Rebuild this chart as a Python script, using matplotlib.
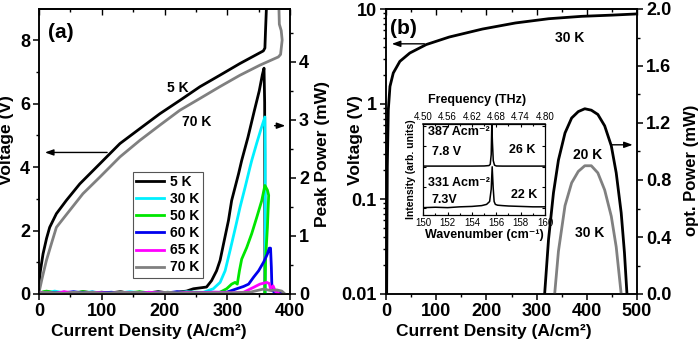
import matplotlib
matplotlib.use('Agg')
import matplotlib.pyplot as plt
from matplotlib.ticker import MultipleLocator, FixedLocator, FixedFormatter, LogLocator, NullFormatter, FormatStrFormatter

plt.rcParams['font.family'] = ['Liberation Sans', 'DejaVu Sans']
plt.rcParams['font.weight'] = 'bold'
plt.rcParams['axes.linewidth'] = 1.1

# ---------------- data: panel (a) ----------------
ja_v5 = [0, 2, 6.4, 12, 17, 27.7, 43.6, 65, 96.8, 129, 160.7, 192.6, 224.5, 256.4, 288, 320, 357.5, 360, 361, 362, 363]
va_5 = [0.3, 0.7, 1.26, 1.75, 2.1, 2.53, 2.95, 3.47, 4.1, 4.74, 5.21, 5.68, 6.1, 6.53, 6.89, 7.26, 7.66, 7.75, 8.3, 8.8, 9.3]
ja_v70 = [0, 5, 11.7, 20, 27.7, 43.6, 70, 96.8, 129, 160.7, 192.6, 224.5, 256.4, 288, 320, 352, 381.5, 385, 387.5, 386, 383, 382]
va_70 = [0.05, 0.5, 1.05, 1.6, 2.1, 2.5, 3.16, 3.68, 4.32, 4.84, 5.32, 5.79, 6.16, 6.53, 6.89, 7.21, 7.47, 7.55, 8.0, 8.3, 8.5, 9.3]

base_j = [0, 12, 25, 40, 55, 70, 85, 100, 115, 130, 145, 160, 175, 190, 205, 220, 235]
jp_5 = base_j + [246, 267, 275, 283, 288.6, 294, 302, 307, 312.5, 318, 323, 333, 343, 351, 356, 358.6, 359.6, 359.8, 360, 360]
pp_5 = [0.02, 0.04, 0.02, 0.03, 0.01, 0.04, 0.02, 0.03, 0.02, 0.04, 0.01, 0.03, 0.02, 0.04, 0.02, 0.03, 0.05,
        0.09, 0.12, 0.23, 0.40, 0.58, 0.86, 1.27, 1.61, 1.84, 2.07, 2.30, 2.70, 3.15, 3.50, 3.78, 3.89, 3.3, 2.2, 1.0, 0.0]
jp_30 = base_j + [250, 262, 277.7, 288.6, 296.6, 304.5, 312.5, 320.5, 328.5, 336.4, 339, 347, 354, 360, 360.5, 360.5, 360.3]
pp_30 = [0.03, 0.02, 0.05, 0.02, 0.03, 0.02, 0.04, 0.01, 0.03, 0.02, 0.04, 0.02, 0.03, 0.01, 0.03, 0.02, 0.04,
         0.03, 0.03, 0.09, 0.20, 0.40, 0.75, 1.12, 1.50, 1.84, 2.19, 2.30, 2.60, 2.85, 3.05, 2.4, 1.2, 0.0]
jp_50 = base_j + [250, 270, 283, 299, 307, 312.5, 316, 319.4, 323, 331, 339, 347, 355, 360, 364, 366, 364, 361, 360]
pp_50 = [0.02, 0.05, 0.02, 0.03, 0.02, 0.04, 0.02, 0.03, 0.01, 0.03, 0.02, 0.04, 0.02, 0.03, 0.02, 0.03, 0.02,
         0.03, 0.02, 0.0, 0.09, 0.17, 0.20, 0.17, 0.40, 0.60, 0.80, 1.04, 1.32, 1.61, 1.87, 1.79, 1.70, 1.15, 0.58, 0.0]
jp_60 = base_j + [250, 270, 299, 315, 326, 334, 342, 350, 358, 364, 367, 369, 370.3, 371.3, 376, 385]
pp_60 = [0.01, 0.03, 0.02, 0.02, 0.04, 0.02, 0.03, 0.02, 0.03, 0.02, 0.01, 0.03, 0.02, 0.03, 0.02, 0.04, 0.02,
         0.02, 0.03, 0.03, 0.09, 0.13, 0.17, 0.29, 0.40, 0.55, 0.69, 0.79, 0.79, 0.46, 0.06, 0.03, 0.01]
jp_65 = base_j + [250, 280, 310, 326, 342, 352, 363, 367, 369, 373, 377, 383.5]
pp_65 = [0.03, 0.02, 0.01, 0.04, 0.02, 0.01, 0.03, 0.02, 0.01, 0.03, 0.02, 0.01, 0.03, 0.02, 0.02, 0.01, 0.03,
         0.02, 0.03, 0.02, 0.03, 0.115, 0.17, 0.20, 0.18, 0.09, 0.14, 0.04, 0.0]
jp_70 = base_j + [250, 280, 310, 336, 358, 369, 379, 387, 392]
pp_70 = [0.02, 0.03, 0.02, 0.01, 0.03, 0.02, 0.03, 0.01, 0.02, 0.03, 0.02, 0.03, 0.01, 0.02, 0.03, 0.02, 0.02,
         0.02, 0.02, 0.02, 0.03, 0.086, 0.06, 0.07, 0.05, 0.0]

temps_a = ['5 K', '30 K', '50 K', '60 K', '65 K', '70 K']
colors_a = ['#000000', '#00f0ff', '#00e600', '#0000ee', '#ff00ff', '#808080']

# ---------------- data: panel (b) ----------------
jb_v = [0.5, 1.3, 2.6, 4.6, 7.9, 14.5, 27.6, 47.4, 80, 126, 192, 258, 324, 389.5, 450, 495, 500]
vb = [0.005, 0.01, 0.22, 0.87, 1.53, 2.12, 2.81, 3.44, 4.22, 5.07, 6.15, 7.13, 7.9, 8.37, 8.62, 8.85, 8.9]
jb_p20 = [316, 323.7, 333.6, 343.5, 356.6, 369.8, 383, 396, 409, 422, 435.6, 448.8, 458.6, 468.5, 475, 480]
pb_20 = [0.0, 0.38, 0.71, 0.94, 1.13, 1.235, 1.28, 1.30, 1.29, 1.26, 1.18, 1.04, 0.85, 0.57, 0.29, 0.0]
jb_p30 = [336, 343.5, 356.6, 369.8, 383, 396, 409, 422, 435.6, 448.8, 458.6, 468.5]
pb_30 = [0.0, 0.30, 0.62, 0.78, 0.86, 0.90, 0.90, 0.85, 0.73, 0.545, 0.33, 0.0]

# inset spectra
wn_26 = [150, 152, 154, 155.0, 155.4, 155.5, 155.58, 155.63, 155.68, 155.75, 155.85, 156.0, 156.5, 158, 160]
int_26 = [1.017, 1.017, 1.017, 1.02, 1.03, 1.06, 1.3, 2.05, 1.6, 1.15, 1.04, 1.02, 1.017, 1.017, 1.017]
wn_22 = [150, 151, 152, 153, 154, 154.8, 155.2, 155.45, 155.58, 155.66, 155.74, 155.82, 155.92, 156.1, 156.5, 157, 158, 159, 160]
int_22 = [0.0, 0.01, 0.0, 0.02, 0.03, 0.05, 0.08, 0.15, 0.45, 1.0, 0.5, 0.15, 0.08, 0.06, 0.05, 0.04, 0.03, 0.02, 0.02]
freq_ticks = [4.50, 4.56, 4.62, 4.68, 4.74, 4.80]
freq_labels = ['4.50', '4.56', '4.62', '4.68', '4.74', '4.80']

W, H = 699, 346
fig = plt.figure(figsize=(W / 100, H / 100), dpi=100)


def px_axes(l, t, r, b):
    return fig.add_axes([l / W, 1 - b / H, (r - l) / W, (b - t) / H])


TICK = 13
LAB = 12.5
ARROW = dict(arrowstyle='-|>,head_length=0.5,head_width=0.18', color='black', lw=1.0)


def style(ax, xmaj, xmin):
    ax.tick_params(which='major', direction='out', length=4.5, width=1.1, labelsize=TICK, pad=2)
    ax.tick_params(which='minor', direction='out', length=2.5, width=1.0)
    ax.xaxis.set_major_locator(MultipleLocator(xmaj))
    ax.xaxis.set_minor_locator(MultipleLocator(xmin))
    sec = ax.secondary_xaxis('top')
    sec.xaxis.set_major_locator(MultipleLocator(xmaj))
    sec.xaxis.set_minor_locator(MultipleLocator(xmin))
    sec.tick_params(which='major', direction='in', length=4, width=1.0, labeltop=False)
    sec.tick_params(which='minor', direction='in', length=2.5, width=1.0)
    for lab in ax.get_xticklabels() + ax.get_yticklabels():
        lab.set_fontweight('bold')


def style_right(ax):
    ax.tick_params(which='major', direction='out', length=4.5, width=1.1, labelsize=TICK, pad=2)
    ax.tick_params(which='minor', direction='out', length=2.5, width=1.0)
    for lab in ax.get_yticklabels():
        lab.set_fontweight('bold')


# ---------------- panel (a) ----------------
axa = px_axes(39, 9, 290, 294)
axa.plot(ja_v5, va_5, color=colors_a[0], lw=2.0)
axa.plot(ja_v70, va_70, color=colors_a[5], lw=2.0)
axa.set_xlim(0, 400)
axa.set_ylim(0, 8.98)
axa.yaxis.set_major_locator(MultipleLocator(2))
axa.yaxis.set_minor_locator(MultipleLocator(1))
style(axa, 100, 50)
axa.set_xlabel('Current Density (A/cm²)', fontsize=LAB, fontweight='bold')
axa.set_ylabel('Voltage (V)', fontsize=LAB, fontweight='bold')
axa.xaxis.set_label_coords(0.438, -0.105)
axa.yaxis.set_label_coords((14 - 39) / 251, 0.54)

axa2 = axa.twinx()
series = [(jp_5, pp_5), (jp_30, pp_30), (jp_50, pp_50), (jp_60, pp_60), (jp_65, pp_65), (jp_70, pp_70)]
handles = []
for (j, p), c, t in zip(series, colors_a, temps_a):
    h, = axa2.plot(j, p, color=c, lw=2.0, label=t)
    handles.append(h)
axa2.set_ylim(0, 4.91)
axa2.yaxis.set_major_locator(MultipleLocator(1))
axa2.yaxis.set_minor_locator(MultipleLocator(0.5))
style_right(axa2)
axa2.set_ylabel('Peak Power (mW)', fontsize=LAB, fontweight='bold')
axa2.yaxis.set_label_coords((315 - 39) / 251, 0.49)

leg = axa2.legend(handles=handles, loc='upper left', bbox_to_anchor=((132.7 - 39) / 251, (294 - 171.7) / 285),
                  frameon=True, fancybox=False, edgecolor='#555555', framealpha=1,
                  prop={'weight': 'bold', 'size': 10}, handlelength=2.0, handletextpad=0.45,
                  labelspacing=0.22, borderpad=0.25, borderaxespad=0)
leg.get_frame().set_linewidth(0.8)

axa.text(221, 6.48, '5 K', fontsize=10, fontweight='bold', ha='center', va='center')
axa.text(252, 5.41, '70 K', fontsize=10, fontweight='bold', ha='center', va='center')
axa.text((48 - 39) / 251, (294 - 33) / 285, '(a)', transform=axa.transAxes, fontsize=15, fontweight='bold',
         ha='left', va='center')
axa.annotate('', xy=(5, 4.46), xytext=(113, 4.46), arrowprops=ARROW)
axa2.annotate('', xy=(397, 2.9), xytext=(371, 2.9), annotation_clip=False, arrowprops=ARROW)

# ---------------- panel (b) ----------------
axb = px_axes(386, 9, 637, 294)
axb.plot(jb_v, vb, color='black', lw=2.0)
axb.set_yscale('log')
axb.set_xlim(0, 500)
axb.set_ylim(0.01, 10)
axb.yaxis.set_major_locator(FixedLocator([0.01, 0.1, 1, 10]))
axb.yaxis.set_major_formatter(FixedFormatter(['0.01', '0.1', '1', '10']))
axb.yaxis.set_minor_locator(LogLocator(base=10, subs=[2, 3, 4, 5, 6, 7, 8, 9]))
axb.yaxis.set_minor_formatter(NullFormatter())
style(axb, 100, 50)
axb.set_xlabel('Current Density (A/cm²)', fontsize=LAB, fontweight='bold')
axb.set_ylabel('Voltage (V)', fontsize=LAB, fontweight='bold')
axb.xaxis.set_label_coords(0.43, -0.105)
axb.yaxis.set_label_coords((363 - 386) / 251, 0.54)

axb2 = axb.twinx()
axb2.plot(jb_p20, pb_20, color='black', lw=2.0)
axb2.plot(jb_p30, pb_30, color='#808080', lw=2.0)
axb2.set_ylim(0, 2.0)
axb2.yaxis.set_major_locator(MultipleLocator(0.4))
axb2.yaxis.set_minor_locator(MultipleLocator(0.2))
axb2.yaxis.set_major_formatter(FormatStrFormatter('%.1f'))
style_right(axb2)
axb2.set_ylabel('opt. Power (mW)', fontsize=12, fontweight='bold')
axb2.yaxis.set_label_coords((684 - 386) / 251, 0.435)

axb.text(366.5, 5.0, '30 K', fontsize=10, fontweight='bold', ha='center', va='center')
axb2.text(402, 0.976, '20 K', fontsize=10, fontweight='bold', ha='center', va='center')
axb2.text(406, 0.43, '30 K', fontsize=10, fontweight='bold', ha='center', va='center')
axb.text((390 - 386) / 251, (294 - 28) / 285, '(b)', transform=axb.transAxes, fontsize=15, fontweight='bold',
         ha='left', va='center')
axb.annotate('', xy=(6, 4.3), xytext=(82, 4.3), arrowprops=ARROW)
axb2.annotate('', xy=(497, 1.047), xytext=(442, 1.047), arrowprops=ARROW)

# ---------------- inset ----------------
axi = px_axes(423.3, 124.3, 545, 215)
axi.plot(wn_26, int_26, color='black', lw=1.1)
axi.plot(wn_22, int_22, color='black', lw=1.1)
axi.set_xlim(150, 160)
axi.set_ylim(-0.18, 2.04)
axi.xaxis.set_major_locator(MultipleLocator(2))
axi.xaxis.set_minor_locator(MultipleLocator(1))
axi.yaxis.set_major_locator(MultipleLocator(0.5))
axi.yaxis.set_major_formatter(NullFormatter())
axi.tick_params(which='both', direction='in', left=True, right=True, width=0.8, labelsize=7, pad=2)
axi.tick_params(which='major', length=2.5)
axi.tick_params(which='minor', length=1.5)
for sp in axi.spines.values():
    sp.set_linewidth(0.9)
for lab in axi.get_xticklabels():
    lab.set_fontweight('normal')
axi.set_xlabel('Wavenumber (cm⁻¹)', fontsize=9, fontweight='bold', labelpad=1)
axi.set_ylabel('Intensity (arb. units)', fontsize=7.5, fontweight='bold', labelpad=3)

seci = axi.secondary_xaxis('top', functions=(lambda x: 4.5 + (x - 150) * 0.03, lambda f: 150 + (f - 4.5) / 0.03))
seci.xaxis.set_major_locator(FixedLocator(freq_ticks))
seci.xaxis.set_major_formatter(FixedFormatter(freq_labels))
seci.xaxis.set_minor_locator(MultipleLocator(0.03))
seci.tick_params(which='both', direction='in', width=0.8, labelsize=7, pad=1.5)
seci.tick_params(which='major', length=2.5)
seci.tick_params(which='minor', length=1.5)
for lab in seci.get_xticklabels():
    lab.set_fontweight('normal')
axi.text(0.44, (215 - 100) / 90.7, 'Frequency (THz)', transform=axi.transAxes, fontsize=9, fontweight='bold',
         ha='center', va='center')

axi.text(150.4, 1.85, '387 Acm⁻²', fontsize=9, fontweight='bold', ha='left', va='center')
axi.text(150.7, 1.36, '7.8 V', fontsize=9, fontweight='bold', ha='left', va='center')
axi.text(158.15, 1.41, '26 K', fontsize=9, fontweight='bold', ha='center', va='center')
axi.text(150.4, 0.60, '331 Acm⁻²', fontsize=9, fontweight='bold', ha='left', va='center')
axi.text(150.7, 0.19, '7.3V', fontsize=9, fontweight='bold', ha='left', va='center')
axi.text(158.3, 0.31, '22 K', fontsize=9, fontweight='bold', ha='center', va='center')

fig.savefig('out.png', dpi=100)
